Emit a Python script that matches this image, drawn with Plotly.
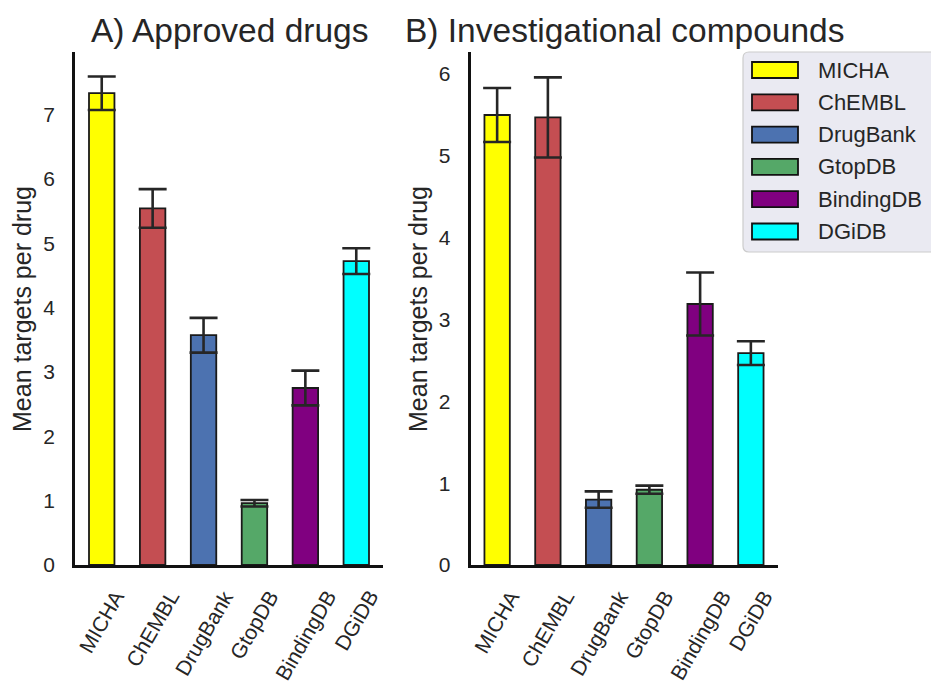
import plotly.graph_objects as go

databases = ["MICHA", "ChEMBL", "DrugBank", "GtopDB", "BindingDB", "DGiDB"]
colors = ["#ffff00", "#c44e52", "#4c72b0", "#55a868", "#800080", "#00ffff"]

approved_mean = [7.33, 5.54, 3.57, 0.96, 2.75, 4.72]
approved_err = [0.26, 0.30, 0.27, 0.05, 0.27, 0.20]

invest_mean = [5.50, 5.47, 0.80, 0.92, 3.19, 2.59]
invest_err = [0.33, 0.49, 0.10, 0.05, 0.385, 0.145]

W, H = 931, 686
def px(x): return x / W
def py(y): return 1 - y / H

TXT = "#262626"
FONT = "Liberation Sans, Arial, sans-serif"

fig = go.Figure()
for xa, ya, vals, errs in [("x", "y", approved_mean, approved_err),
                           ("x2", "y2", invest_mean, invest_err)]:
    fig.add_trace(go.Bar(
        x=databases, y=vals, xaxis=xa, yaxis=ya, width=0.5,
        marker=dict(color=colors, line=dict(color="#1a1a1a", width=1.8)),
        error_y=dict(type="data", array=errs, visible=True,
                     color=TXT, thickness=2.6, width=14),
        showlegend=False))

axis_common = dict(showline=True, linecolor="#111111", linewidth=2.6,
                   showgrid=False, zeroline=False, ticks="",
                   tickfont=dict(size=21, color=TXT, family=FONT),
                   automargin=False)

ydom = [py(565), py(52)]
fig.update_layout(
    width=W, height=H,
    margin=dict(l=0, r=0, t=0, b=0),
    paper_bgcolor="white", plot_bgcolor="white",
    font=dict(family=FONT, color=TXT),
    xaxis=dict(domain=[px(75), px(383)], range=[-0.525, 5.525], anchor="y",
               showticklabels=False, **axis_common),
    yaxis=dict(domain=ydom, range=[0, 7.97], anchor="x", dtick=1,
               ticklabelstandoff=13, **axis_common),
    xaxis2=dict(domain=[px(470.5), px(777.5)], range=[-0.525, 5.525], anchor="y2",
                showticklabels=False, **axis_common),
    yaxis2=dict(domain=ydom, range=[0, 6.27], anchor="x2", dtick=1,
                ticklabelstandoff=13, **axis_common),
)

# rotated category labels, centred under each bar (matplotlib-style ha=center)
for xref in ("x", "x2"):
    for name in databases:
        fig.add_annotation(text=name, x=name, xref=xref, y=py(584), yref="paper",
                           xanchor="center", yanchor="top", textangle=-60,
                           showarrow=False, font=dict(size=21, color=TXT, family=FONT))

# titles
for txt, xc in [("A) Approved drugs", 229), ("B) Investigational compounds", 624)]:
    fig.add_annotation(text=txt, x=px(xc), y=py(30), xref="paper", yref="paper",
                       xanchor="center", yanchor="middle", showarrow=False,
                       font=dict(size=33.5, color=TXT, family=FONT))
# y-axis titles
for xc in (22, 418):
    fig.add_annotation(text="Mean targets per drug", x=px(xc), y=py(309), xref="paper", yref="paper",
                       xanchor="center", yanchor="middle",
                       showarrow=False, textangle=-90, font=dict(size=25, color=TXT, family=FONT))

# legend (drawn manually to match wide patches)
x0, x1, y0, y1, r = 743, 945, 52, 252, 6
path = (f"M {px(x0+r)},{py(y0)} L {px(x1)},{py(y0)} L {px(x1)},{py(y1)} L {px(x0+r)},{py(y1)} "
        f"Q {px(x0)},{py(y1)} {px(x0)},{py(y1-r)} L {px(x0)},{py(y0+r)} "
        f"Q {px(x0)},{py(y0)} {px(x0+r)},{py(y0)} Z")
fig.add_shape(type="path", path=path, xref="paper", yref="paper",
              fillcolor="#eaeaf2", line=dict(color="#cccccc", width=1.2), layer="above")
for i, (name, c) in enumerate(zip(databases, colors)):
    yc = 70 + 32.3 * i
    fig.add_shape(type="rect", xref="paper", yref="paper",
                  x0=px(752), x1=px(798), y0=py(yc - 8), y1=py(yc + 8),
                  fillcolor=c, line=dict(color="#111111", width=1.8), layer="above")
    fig.add_annotation(text=name, x=px(816), y=py(yc), xref="paper", yref="paper",
                       xanchor="left", yanchor="middle", showarrow=False,
                       font=dict(size=22, color=TXT, family=FONT))

fig.write_html("out.html", config={"displayModeBar": False},
               post_script="document.body.style.margin='0px';")
